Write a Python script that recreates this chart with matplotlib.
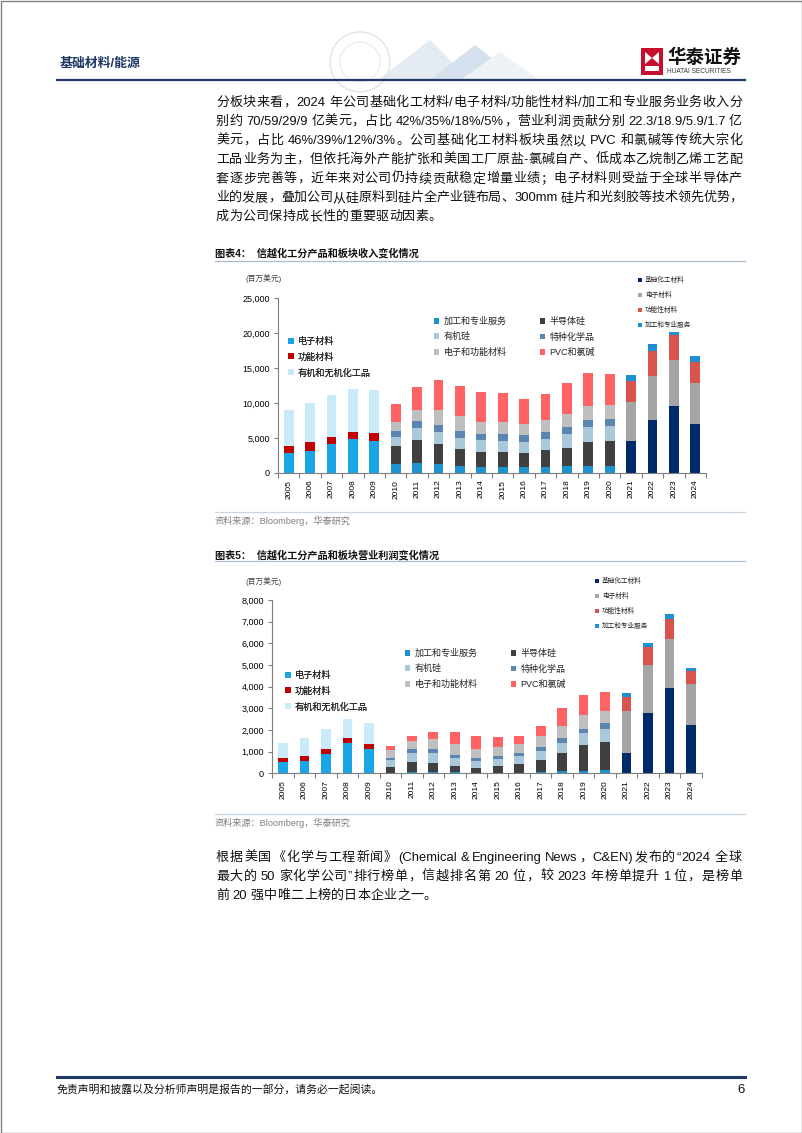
import matplotlib
matplotlib.use('Agg')
import matplotlib.pyplot as plt
import numpy as np
from matplotlib.patches import Rectangle, Polygon, Circle

plt.rcParams['font.family'] = ['Liberation Sans', 'Noto Sans CJK SC']

W, H = 802, 1133

# ---------------------------------------------------------------- data
years = [str(y) for y in range(2005, 2025)]
years_a = years[0:5]      # 2005-2009
years_b = years[5:16]     # 2010-2020
years_c = years[16:20]    # 2021-2024

labels_a = ['电子材料', '功能材料', '有机和无机化工品']
labels_b = ['加工和专业服务', '半导体硅', '有机硅', '特种化学品', '电子和功能材料', 'PVC和氯碱']
labels_c = ['基础化工材料', '电子材料', '功能性材料', '加工和专业服务']

# revenue, million USD
rev_a = [
    [2800, 3150, 4050, 4900, 4600],
    [1050, 1200, 1000, 1000, 1100],
    [5100, 5600, 6050, 6150, 6200],
]
rev_b = [
    [1200, 1400, 1200, 950, 850, 850, 750, 850, 950, 1000, 1000],
    [2650, 3300, 2850, 2500, 2150, 2100, 2100, 2350, 2650, 3400, 3500],
    [1300, 1750, 1750, 1550, 1650, 1650, 1550, 1650, 1900, 2100, 2150],
    [850, 950, 1000, 950, 950, 1000, 950, 1000, 1000, 1050, 1000],
    [1300, 1600, 2250, 2200, 1700, 1700, 1600, 1700, 1950, 2000, 2050],
    [2500, 3350, 4200, 4250, 4250, 4100, 3600, 3800, 4450, 4750, 4400],
]
rev_c = [
    [4550, 7550, 9600, 7000],
    [5550, 6250, 6500, 5900],
    [3000, 3600, 3650, 2900],
    [950, 1100, 400, 900],
]

# operating profit, million USD
prof_a = [
    [500, 570, 900, 1420, 1110],
    [190, 210, 240, 230, 240],
    [710, 870, 910, 870, 960],
]
prof_b = [
    [30, 80, 50, 50, 30, 30, 30, 80, 120, 120, 160],
    [280, 460, 440, 270, 230, 320, 390, 520, 820, 1170, 1290],
    [290, 400, 450, 370, 320, 330, 400, 420, 480, 560, 600],
    [120, 170, 180, 160, 130, 120, 120, 180, 230, 210, 260],
    [340, 400, 460, 500, 430, 430, 430, 510, 530, 620, 580],
    [220, 230, 310, 540, 580, 450, 370, 490, 850, 950, 860],
]
prof_c = [
    [920, 2800, 3950, 2230],
    [1960, 2180, 2250, 1890],
    [630, 850, 940, 590],
    [180, 200, 210, 170],
]

colors_a = ['#1AA5E6', '#C00000', '#C9EAF8']
colors_b = ['#1C93CF', '#404040', '#A9C9DB', '#5A86B1', '#BFBFBF', '#FF6363']
colors_c = ['#002B6B', '#A5A5A5', '#D9534F', '#1E90D0']

para1 = [
    '分板块来看，2024 年公司基础化工材料/电子材料/功能性材料/加工和专业服务业务收入分',
    '别约 70/59/29/9 亿美元，占比 42%/35%/18%/5%，营业利润贡献分别 22.3/18.9/5.9/1.7 亿',
    '美元，占比 46%/39%/12%/3%。公司基础化工材料板块虽然以 PVC 和氯碱等传统大宗化',
    '工品业务为主，但依托海外产能扩张和美国工厂原盐-氯碱自产、低成本乙烷制乙烯工艺配',
    '套逐步完善等，近年来对公司仍持续贡献稳定增量业绩；电子材料则受益于全球半导体产',
    '业的发展，叠加公司从硅原料到硅片全产业链布局、300mm 硅片和光刻胶等技术领先优势，',
    '成为公司保持成长性的重要驱动因素。',
]
para2 = [
    '根据美国《化学与工程新闻》(Chemical & Engineering News，C&EN)发布的“2024 全球',
    '最大的 50 家化学公司”排行榜单，信越排名第 20 位，较 2023 年榜单提升 1 位，是榜单',
    '前 20 强中唯二上榜的日本企业之一。',
]

GRAY = '#7F7F7F'
NAVY = '#1F3864'

fig = plt.figure(figsize=(W / 100, H / 100), dpi=100)
page = fig.add_axes([0, 0, 1, 1])
page.set_xlim(0, W)
page.set_ylim(H, 0)
page.axis('off')
renderer = fig.canvas.get_renderer()


def is_wide(t):
    return len(t) == 1 and ord(t) >= 128


def tokens(s):
    out, buf = [], ''
    for ch in s:
        if ord(ch) < 128 and ch != ' ':
            buf += ch
        else:
            if buf:
                out.append(buf)
                buf = ''
            out.append(ch)
    if buf:
        out.append(buf)
    return out


def body_line(text, y, justify=True, x0=216, x1=742, size=9.4):
    toks = tokens(text)
    arts, widths = [], []
    for t in toks:
        if t == ' ':
            arts.append(None)
            widths.append(size * 0.35)
            continue
        a = page.text(0, y, t, fontsize=size, va='center', ha='left', color='#111111')
        arts.append(a)
        widths.append(a.get_window_extent(renderer).width)
    # spread the slack only over gaps that touch a CJK character
    stretch = [is_wide(toks[i]) or is_wide(toks[i + 1]) for i in range(len(toks) - 1)]
    n = max(sum(stretch), 1)
    gap = (x1 - x0 - sum(widths)) / n if justify else 0.3
    x = x0
    for i, (a, w) in enumerate(zip(arts, widths)):
        if a is not None:
            a.set_x(x)
        x += w
        if i < len(stretch) and stretch[i]:
            x += gap


def paragraph(lines, y0, step=19.0):
    for i, line in enumerate(lines):
        body_line(line, y0 + i * step, justify=(i < len(lines) - 1))


def stack(ax, xs, series, colors, width=0.45):
    bottom = np.zeros(len(xs))
    handles = []
    for vals, c in zip(series, colors):
        b = ax.bar(xs, vals, width, bottom=bottom, color=c, linewidth=0)
        bottom += np.asarray(vals, float)
        handles.append(b)
    return handles


def legend(ax, handles, labels, x, y, size, ncol=1, spacing=0.7, colsp=3.7):
    leg = ax.legend(handles, labels, loc='upper left', bbox_to_anchor=(x, y),
                    bbox_transform=page.transData, frameon=False, fontsize=size,
                    ncol=ncol, handlelength=0.6, handleheight=0.6, handletextpad=0.45,
                    labelspacing=spacing, borderpad=0, borderaxespad=0,
                    columnspacing=colsp)
    for t in leg.get_texts():
        t.set_color('#262626')
    ax.add_artist(leg)


def chart(left, right, top, zero, ymax, step, data_a, data_b, data_c, leg_pos):
    ax = fig.add_axes([left / W, 1 - zero / H, (right - left) / W, (zero - top) / H])
    idx = {y: i for i, y in enumerate(years)}
    ha = stack(ax, [idx[y] for y in years_a], data_a, colors_a)
    hb = stack(ax, [idx[y] for y in years_b], data_b, colors_b)
    hc = stack(ax, [idx[y] for y in years_c], data_c, colors_c)

    ax.set_xlim(-0.5, len(years) - 0.5)
    ax.set_ylim(0, ymax)
    ticks = np.arange(0, ymax + 1, step)
    ax.set_yticks(ticks)
    ax.set_yticklabels([f'{int(v):,}' for v in ticks])
    ax.set_xticks(range(len(years)))
    ax.set_xticklabels(years, rotation=90)
    ax.set_xticks(np.arange(-0.5, len(years)), minor=True)
    ax.tick_params(axis='x', which='major', length=0, labelsize=6, pad=5)
    ax.tick_params(axis='x', which='minor', length=3.5, color=GRAY, width=0.8)
    ax.tick_params(axis='y', length=3, color=GRAY, width=0.8, labelsize=6.5, pad=3)
    for s in ['top', 'right']:
        ax.spines[s].set_visible(False)
    for s in ['left', 'bottom']:
        ax.spines[s].set_color(GRAY)
        ax.spines[s].set_linewidth(0.8)
    ax.patch.set_alpha(0)

    (cx, cy), (bx, by), (axx, ay) = leg_pos
    legend(ax, hc, labels_c, cx, cy, 4.8, spacing=1.2)
    order = [0, 2, 4, 1, 3, 5]
    legend(ax, [hb[i] for i in order], [labels_b[i] for i in order], bx, by, 6.5, ncol=2)
    legend(ax, ha, labels_a, axx, ay, 6.6)
    return ax


# ---------------------------------------------------------------- header
for pts, col in [([(378, 80), (430, 40), (470, 80)], '#E4EBF3'),
                 ([(430, 80), (475, 45), (520, 80)], '#D5E1EE'),
                 ([(460, 80), (500, 52), (540, 80)], '#EDF2F7')]:
    page.add_patch(Polygon(pts, closed=True, fc=col, ec='none'))
page.add_patch(Circle((360, 62), 30, fc='none', ec='#DCE4EC', lw=1.0))
page.add_patch(Circle((360, 62), 20, fc='none', ec='#E6ECF2', lw=0.8))

page.text(60, 64, '基础材料/能源', fontsize=9.3, fontweight='bold', color=NAVY,
          va='center', ha='left')
page.add_patch(Rectangle((641, 48), 22, 27, fc='#C8102E', ec='none'))
page.add_patch(Polygon([(645, 52), (652, 58), (645, 64)], fc='white', ec='none'))
page.add_patch(Polygon([(659, 52), (652, 58), (659, 64)], fc='white', ec='none'))
page.add_patch(Rectangle((645, 66), 14, 5, fc='white', ec='none'))
page.text(667, 58, '华泰证券', fontsize=13.3, fontweight='bold', color='#111111',
          va='center', ha='left')
page.text(667, 71.5, 'HUATAI SECURITIES', fontsize=4.7, color='#333333',
          va='center', ha='left')
page.plot([57, 745], [79.5, 79.5], color=NAVY, lw=1.6)

# ---------------------------------------------------------------- text
paragraph(para1, 103)

page.text(215, 253, '图表4：  信越化工分产品和板块收入变化情况', fontsize=7.3,
          fontweight='bold', va='center', ha='left', color='#111111')
page.plot([215, 745], [261, 261], color='#A8BCD0', lw=0.9)
page.text(245, 278, '(百万美元)', fontsize=5.6, va='center', ha='left', color='#404040')
chart(278, 706, 298.3, 472.7, 25000, 5000, rev_a, rev_b, rev_c,
      [(638, 277), (434, 317), (288, 337)])
page.plot([215, 745], [512.3, 512.3], color='#C8D5E2', lw=0.9)
page.text(215, 521, '资料来源：Bloomberg，华泰研究', fontsize=6.6, va='center',
          ha='left', color=GRAY)

page.text(215, 555, '图表5：  信越化工分产品和板块营业利润变化情况', fontsize=7.3,
          fontweight='bold', va='center', ha='left', color='#111111')
page.plot([215, 745], [561.3, 561.3], color='#A8BCD0', lw=0.9)
page.text(245, 581, '(百万美元)', fontsize=5.6, va='center', ha='left', color='#404040')
chart(272.3, 701.7, 600, 773.3, 8000, 1000, prof_a, prof_b, prof_c,
      [(595, 578), (405, 649), (285, 671)])
page.plot([215, 745], [814, 814], color='#C8D5E2', lw=0.9)
page.text(215, 822.5, '资料来源：Bloomberg，华泰研究', fontsize=6.6, va='center',
          ha='left', color=GRAY)

paragraph(para2, 858)

# ---------------------------------------------------------------- footer
page.plot([57, 745], [1077, 1077], color=NAVY, lw=2.2)
page.text(57, 1090, '免责声明和披露以及分析师声明是报告的一部分，请务必一起阅读。',
          fontsize=7.8, va='center', ha='left', color='#111111')
page.text(745, 1090, '6', fontsize=9.5, va='center', ha='right', color='#111111')
page.add_patch(Rectangle((0.5, 0.5), W - 1, H - 1, fill=False, ec='#808080', lw=1))

fig.savefig('out.png', dpi=100)
